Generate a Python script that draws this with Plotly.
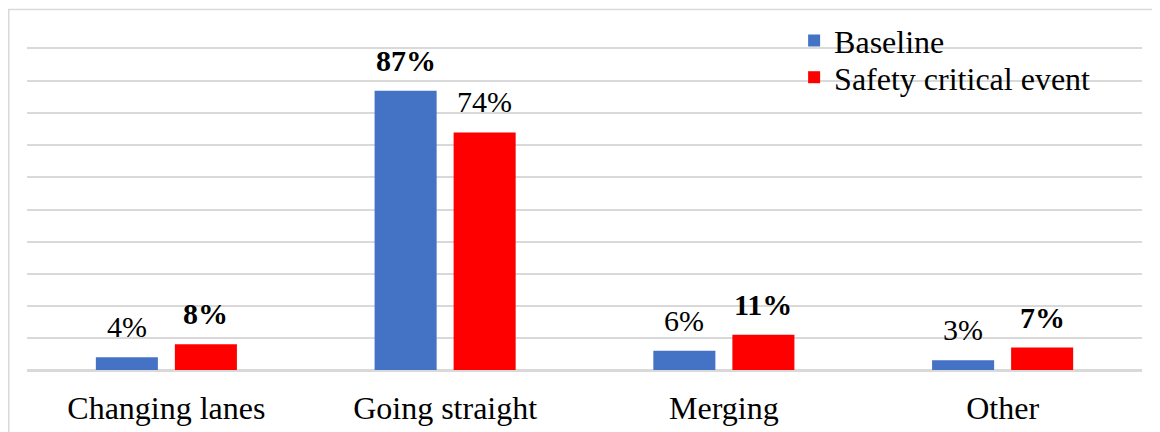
import plotly.graph_objects as go

categories = ["Changing lanes", "Going straight", "Merging", "Other"]
baseline = [4, 87, 6, 3]
safety_critical = [8, 74, 11, 7]

FONT = "Liberation Serif, Times New Roman, serif"
BLUE = "#4472C4"
RED = "#FF0000"
GRID = "#D9D9D9"


def pct_labels(values, other):
    # larger share of each pair is printed in bold, as in the source figure
    return [f"<b>{v}%</b>" if v > o else f"{v}%" for v, o in zip(values, other)]


fig = go.Figure()
fig.add_bar(x=categories, y=baseline, name="Baseline", legend="legend",
            marker=dict(color=BLUE, line=dict(width=0)))
fig.add_bar(x=categories, y=safety_critical, name="Safety critical event", legend="legend2",
            marker=dict(color=RED, line=dict(width=0)))

# value labels above each bar (slot is 79 px wide, so bar centres sit +-39.5 px off the category)
for vals, other, shift in [(baseline, safety_critical, -39.5), (safety_critical, baseline, 39.5)]:
    for cat, v, lab in zip(categories, vals, pct_labels(vals, other)):
        fig.add_annotation(x=cat, y=v, text=lab, showarrow=False, xshift=shift, yshift=12,
                           yanchor="bottom", font=dict(family=FONT, size=30, color="#000000"))

legend_style = dict(xanchor="left", yanchor="middle", bgcolor="rgba(0,0,0,0)", itemwidth=30,
                    font=dict(family=FONT, size=32, color="#000000"))
fig.update_layout(
    width=1160, height=432,
    barmode="group", bargap=0.433, bargroupgap=0.215,
    margin=dict(l=19, r=26, t=40.5, b=69.5, autoexpand=False),
    paper_bgcolor="white", plot_bgcolor="white",
    font=dict(family=FONT, size=30, color="#000000"),
    legend=dict(x=0.688, y=1.026, **legend_style),
    legend2=dict(x=0.688, y=0.9115, **legend_style),
    showlegend=True,
)
# x-axis line mirrored gives the top (100%) grid line that plotly leaves out at the edge
fig.update_xaxes(
    showline=True, mirror=True, linecolor=GRID, linewidth=1.5,
    showgrid=False, ticks="", automargin=False,
    tickfont=dict(family=FONT, size=32, color="#000000"),
    ticklabelstandoff=9,
)
fig.update_yaxes(
    range=[0, 100], dtick=10, showgrid=True, gridcolor=GRID, gridwidth=1.5, automargin=False,
    showticklabels=False, zeroline=True, zerolinecolor=GRID, zerolinewidth=1.5,
)
# outer chart frame: only the top and left edges fall inside the picture
fig.add_shape(
    type="rect", xref="paper", yref="paper",
    x0=-18.25 / 1115, x1=1.1, y0=-0.5, y1=1 + 39.5 / 322,
    line=dict(color=GRID, width=1.5), fillcolor="rgba(0,0,0,0)",
)

fig.write_html("out.html")
